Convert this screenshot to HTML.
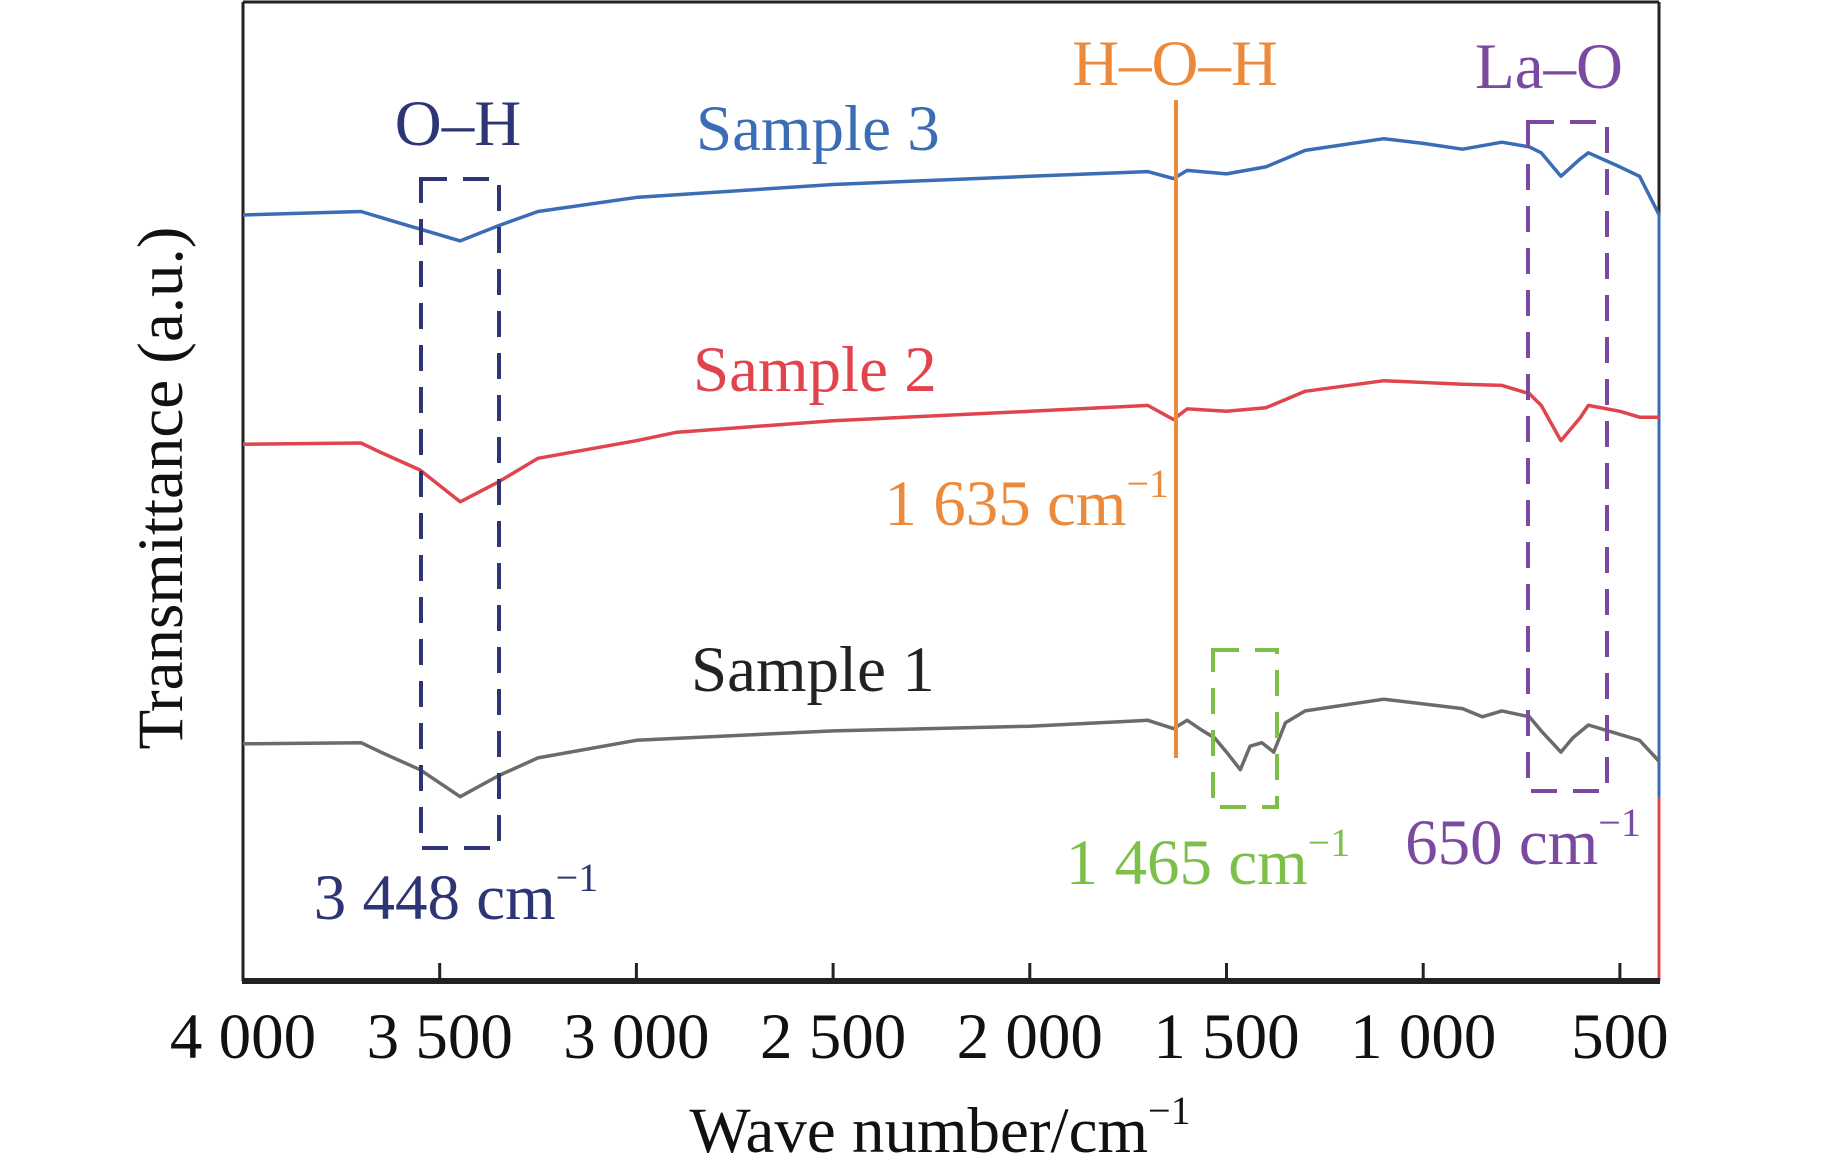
<!DOCTYPE html>
<html><head><meta charset="utf-8"><style>
body{margin:0;background:#fff}
svg{display:block}
text{font-family:"Liberation Serif",serif}
</style></head><body>
<svg id="chart" width="1843" height="1171" viewBox="0 0 1843 1171">
<g id="plot"></g>
</svg>
<script>
const ticks=[4000,3500,3000,2500,2000,1500,1000,500];
const tickLabels=["4 000","3 500","3 000","2 500","2 000","1 500","1 000","500"];
const w3=[4000,3700,3600,3550,3448,3350,3250,3000,2500,2000,1700,1635,1600,1500,1400,1300,1100,1000,900,800,730,700,650,600,580,500,450,400];
const s3=[183,180,190,195,205,192,180,168,157,150,146,152,145,148,142,128,118,122,127,121,125,130,150,135,130,142,150,183];
const w2=[4000,3700,3650,3550,3448,3350,3250,3000,2900,2500,2000,1700,1635,1600,1500,1400,1300,1100,900,800,730,700,650,600,580,500,450,400];
const s2=[378,377,385,400,427,410,390,375,368,358,350,345,357,348,350,347,333,324,327,328,335,345,375,355,345,350,355,355];
const w1=[4000,3700,3650,3550,3448,3350,3250,3000,2500,2000,1700,1635,1600,1560,1530,1500,1465,1440,1410,1380,1350,1300,1100,900,850,800,730,700,650,620,580,500,450,400];
const s1=[633,632,640,655,678,660,645,630,622,618,613,620,613,622,628,640,655,635,632,640,615,605,595,603,610,605,610,622,640,628,617,625,630,648];
const L=243,R=1659,T=2,B=981;
const X=w=>243+(4000-w)/500*196.7;
const Y=d=>d/0.851;
const ns="http://www.w3.org/2000/svg";
const g=document.getElementById('plot');
function mk(tag,attrs,txt){const e=document.createElementNS(ns,tag);for(const k in attrs)e.setAttribute(k,attrs[k]);if(txt!==undefined)e.textContent=txt;g.appendChild(e);return e;}
let e;
e=mk('line',{x1:L,y1:T,x2:R,y2:T,stroke:'#222','stroke-width':3});


e=mk('line',{x1:L,y1:T,x2:L,y2:B,stroke:'#222','stroke-width':3});


e=mk('line',{x1:R,y1:T,x2:R,y2:Y(183),stroke:'#222','stroke-width':3});


e=mk('line',{x1:R,y1:Y(183),x2:R,y2:Y(679),stroke:'#3a6db5','stroke-width':3});


e=mk('line',{x1:R,y1:Y(679),x2:R,y2:B,stroke:'#e0454d','stroke-width':3});


e=mk('line',{x1:L-1,y1:B,x2:R+1,y2:B,stroke:'#222','stroke-width':6});


ticks.forEach((t,i)=>{
  if(i>0){e=mk('line',{x1:X(t),y1:B,x2:X(t),y2:B-18,stroke:'#222','stroke-width':3});
  
  }
  e=mk('text',{x:X(t),y:1058,'font-size':65,'text-anchor':'middle',fill:'#111'},tickLabels[i]);
  
  
});
function series(ws,ss,color,name){
  const d=ws.map((w,i)=>(i?'L':'M')+X(w).toFixed(1)+' '+Y(ss[i]).toFixed(1)).join(' ');
  const p=mk('path',{d:d,fill:'none',stroke:color,'stroke-width':3.5,'stroke-linejoin':'round'});
  
  
}
series(w3,s3,'#3a6db5','sample-3-line');
series(w2,s2,'#e0454d','sample-2-line');
series(w1,s1,'#6b6b6b','sample-1-line');
function box(x1,y1,x2,y2,c,name){const r=mk('rect',{x:x1,y:y1,width:x2-x1,height:y2-y1,fill:'none',stroke:c,'stroke-width':4,'stroke-dasharray':'26 16'});

}
box(421,179,499,848,'#2e3575','oh-box');
box(1213,650,1277,807,'#7cc04a','1465-box');
box(1528,122,1607,791,'#7b4aa0','la-o-box');
e=mk('line',{x1:1176,y1:100,x2:1176,y2:758,stroke:'#ec8a3c','stroke-width':4});


function txt(x,y,s,c,anchor,name,size){const t=mk('text',{x:x,y:y,fill:c,'font-size':size||65,'text-anchor':anchor});t.innerHTML=s;

}
const sup='<tspan font-size="40" dy="-28">−1</tspan>';
txt(458,145,'O–H','#2e3575','middle','oh-label');
txt(456,919,'3 448 cm'+sup,'#2e3575','middle','3448-label');
txt(696,150,'Sample 3','#3a6db5','start','sample-3-label');
txt(693,391,'Sample 2','#e0454d','start','sample-2-label');
txt(691,691,'Sample 1','#222','start','sample-1-label');
txt(1175,85,'H–O–H','#ec8a3c','middle','hoh-label');
txt(1169,525,'1 635 cm'+sup,'#ec8a3c','end','1635-label');
txt(1208,884,'1 465 cm'+sup,'#7cc04a','middle','1465-label');
txt(1549,88,'La–O','#7b4aa0','middle','la-o-label');
txt(1523,864,'650 cm'+sup,'#7b4aa0','middle','650-label');
txt(940,1152,'Wave number/cm'+sup,'#111','middle','x-axis-title');
const yt=mk('text',{x:0,y:0,fill:'#111','font-size':65,'text-anchor':'middle',transform:'translate(182,488) rotate(-90)'},'Transmittance (a.u.)');


</script>
</body></html>
